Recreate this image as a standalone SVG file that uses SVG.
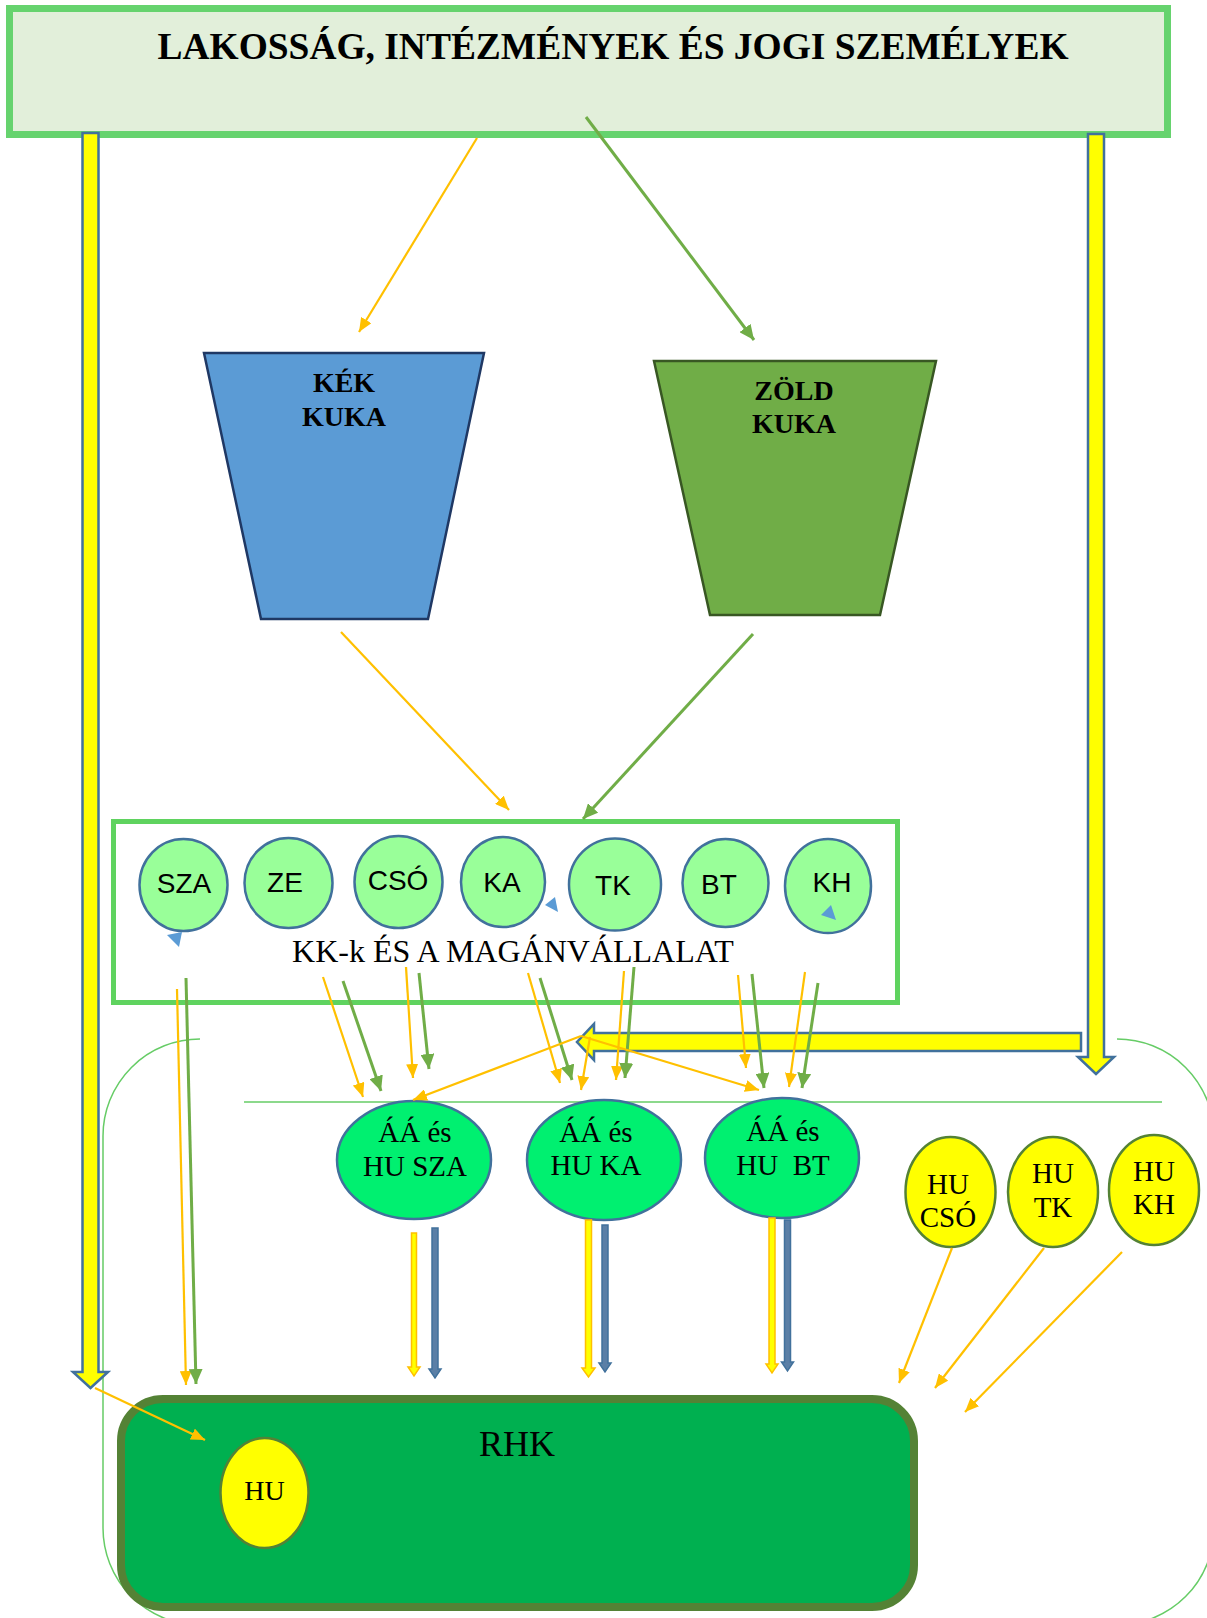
<svg xmlns="http://www.w3.org/2000/svg" width="1207" height="1618" viewBox="0 0 1207 1618">
<style>
.serif{font-family:"Liberation Serif","Times New Roman",serif;fill:#000}
.sans{font-family:"Liberation Sans",Arial,sans-serif;fill:#000}
.b{font-weight:bold}
.ol{stroke:#FFC000;stroke-width:2.2;fill:none;marker-end:url(#ao)}
.gl{stroke:#70AD47;stroke-width:3;fill:none;marker-end:url(#ag)}
.blk{fill:#FFFF00;stroke:#41719C;stroke-width:2.5;stroke-linejoin:miter}
.kc{fill:#99FF99;stroke:#41719C;stroke-width:2.5}
.aa{fill:#00F070;stroke:#41719C;stroke-width:2.5}
.hu{fill:#FFFF00;stroke:#548235;stroke-width:2.5}
.thin{fill:none;stroke:#66CC66;stroke-width:1.5}
.ya{fill:#FFFF00;stroke:#FFC000;stroke-width:1.5}
.ba{fill:#5B7FA6;stroke:#41719C;stroke-width:1.5}
.tri{fill:#5B9BD5}
</style>
<defs>
<marker id="ao" markerUnits="userSpaceOnUse" viewBox="0 0 14 12" markerWidth="14" markerHeight="12" refX="14" refY="6" orient="auto"><path d="M0,0 L14,6 L0,12 z" fill="#FFC000"/></marker>
<marker id="ag" markerUnits="userSpaceOnUse" viewBox="0 0 15 14" markerWidth="15" markerHeight="14" refX="15" refY="7" orient="auto"><path d="M0,0 L15,7 L0,14 z" fill="#70AD47"/></marker>
</defs>
<rect width="1207" height="1618" fill="#FFFFFF"/>

<g id="header">
<rect x="9.5" y="8.5" width="1158" height="126" fill="#E2EFDA" stroke="#66D36E" stroke-width="7"/>
<text class="serif b" x="613" y="59" font-size="38" text-anchor="middle" textLength="911" lengthAdjust="spacingAndGlyphs">LAKOSSÁG, INTÉZMÉNYEK ÉS JOGI SZEMÉLYEK</text>
</g>

<g id="outline">
<path class="thin" d="M200,1039 A97,97 0 0 0 103,1136 L103,1528 A97,97 0 0 0 200,1625 L1117,1625 A97,97 0 0 0 1214,1528 L1214,1136 A97,97 0 0 0 1117,1039"/>
<line x1="244" y1="1102" x2="1162" y2="1102" stroke="#66CC66" stroke-width="1.5"/>
</g>

<g id="kek-kuka">
<polygon points="204,353 484,353 428,619 261,619" fill="#5B9BD5" stroke="#1F3864" stroke-width="2.5"/>
<text class="serif b" x="344" y="392" font-size="28" text-anchor="middle">KÉK</text>
<text class="serif b" x="344" y="426" font-size="28" text-anchor="middle">KUKA</text>
</g>

<g id="zold-kuka">
<polygon points="654,361 936,361 880,615 710,615" fill="#70AD47" stroke="#385723" stroke-width="2.5"/>
<text class="serif b" x="794" y="400" font-size="28" text-anchor="middle">ZÖLD</text>
<text class="serif b" x="794" y="433" font-size="28" text-anchor="middle">KUKA</text>
</g>

<g id="kk-box">
<rect x="113.5" y="821.5" width="784" height="181" fill="#FFFFFF" stroke="#5FD35F" stroke-width="5"/>
<text class="serif" x="513" y="962" font-size="32" text-anchor="middle">KK-k ÉS A MAGÁNVÁLLALAT</text>
</g>
<g id="c-sza"><ellipse class="kc" cx="183.5" cy="885" rx="44" ry="46"/><text class="sans" x="184" y="893" font-size="28" text-anchor="middle">SZA</text></g>
<g id="c-ze"><ellipse class="kc" cx="288.5" cy="883" rx="44" ry="45"/><text class="sans" x="285" y="892" font-size="28" text-anchor="middle">ZE</text></g>
<g id="c-cso"><ellipse class="kc" cx="398.5" cy="882" rx="44" ry="46"/><text class="sans" x="398" y="890" font-size="28" text-anchor="middle">CSÓ</text></g>
<g id="c-ka"><ellipse class="kc" cx="503" cy="882" rx="42" ry="45"/><text class="sans" x="502" y="892" font-size="28" text-anchor="middle">KA</text></g>
<g id="c-tk"><ellipse class="kc" cx="615" cy="884.5" rx="46" ry="46"/><text class="sans" x="613" y="895" font-size="28" text-anchor="middle">TK</text></g>
<g id="c-bt"><ellipse class="kc" cx="725.5" cy="883" rx="43" ry="44"/><text class="sans" x="719" y="894" font-size="28" text-anchor="middle">BT</text></g>
<g id="c-kh"><ellipse class="kc" cx="828" cy="886" rx="43" ry="47"/><text class="sans" x="832" y="892" font-size="28" text-anchor="middle">KH</text></g>
<g id="markers-small">
<polygon class="tri" points="167,935 182,932 179,947"/>
<polygon class="tri" points="545,905 555,897 558,912"/>
<polygon class="tri" points="821,915 831,905 836,920"/>
</g>

<g id="rhk">
<rect x="121" y="1399" width="793" height="208" rx="42" ry="42" fill="#00B050" stroke="#548235" stroke-width="8"/>
<text class="serif" x="517" y="1456" font-size="36" text-anchor="middle">RHK</text>
</g>
<g id="hu-rhk"><ellipse class="hu" cx="264.5" cy="1493" rx="44" ry="55"/><text class="serif" x="264.5" y="1500" font-size="28" text-anchor="middle">HU</text></g>

<g id="aa-sza"><ellipse class="aa" cx="414" cy="1160" rx="77" ry="59"/><text class="serif" x="415" y="1142" font-size="29" text-anchor="middle">ÁÁ és</text><text class="serif" x="415" y="1176" font-size="29" text-anchor="middle">HU SZA</text></g>
<g id="aa-ka"><ellipse class="aa" cx="604" cy="1160" rx="77" ry="60"/><text class="serif" x="596" y="1142" font-size="29" text-anchor="middle">ÁÁ és</text><text class="serif" x="596" y="1175" font-size="29" text-anchor="middle">HU KA</text></g>
<g id="aa-bt"><ellipse class="aa" cx="782" cy="1158" rx="77" ry="60"/><text class="serif" x="783" y="1141" font-size="29" text-anchor="middle">ÁÁ és</text><text class="serif" x="783" y="1175" font-size="29" text-anchor="middle" xml:space="preserve">HU  BT</text></g>

<g id="hu-cso"><ellipse class="hu" cx="950.5" cy="1192" rx="45" ry="55"/><text class="serif" x="948" y="1194" font-size="29" text-anchor="middle">HU</text><text class="serif" x="948" y="1227" font-size="29" text-anchor="middle">CSÓ</text></g>
<g id="hu-tk"><ellipse class="hu" cx="1053" cy="1192" rx="45" ry="55"/><text class="serif" x="1053" y="1183" font-size="29" text-anchor="middle">HU</text><text class="serif" x="1053" y="1217" font-size="29" text-anchor="middle">TK</text></g>
<g id="hu-kh"><ellipse class="hu" cx="1154" cy="1190" rx="45" ry="55"/><text class="serif" x="1154" y="1181" font-size="29" text-anchor="middle">HU</text><text class="serif" x="1154" y="1214" font-size="29" text-anchor="middle">KH</text></g>

<g id="connectors">
<polygon class="blk" points="82.5,133 98.5,133 98.5,1372 108,1372 90.5,1388 73,1372 82.5,1372"/>
<polygon class="blk" points="1088,134 1104,134 1104,1057 1114,1057 1096,1074 1078,1057 1088,1057"/>
<polygon class="blk" points="1081,1033 594,1033 594,1024 577,1042 594,1060 594,1051 1081,1051"/>

<polygon class="ya" points="411.5,1233 416.5,1233 416.5,1367 420,1367 414,1376 408,1367 411.5,1367"/>
<polygon class="ba" points="432,1228 438,1228 438,1369 441,1369 435,1378 429,1369 432,1369"/>
<polygon class="ya" points="585.5,1220 591.5,1220 591.5,1368 595,1368 588.5,1377 582,1368 585.5,1368"/>
<polygon class="ba" points="602,1225 608,1225 608,1363 611,1363 605,1372 599,1363 602,1363"/>
<polygon class="ya" points="769,1218 775,1218 775,1364 778,1364 772,1373 766,1364 769,1364"/>
<polygon class="ba" points="784.5,1220 790.5,1220 790.5,1362 793.5,1362 787.5,1371 781.5,1362 784.5,1362"/>

<line class="ol" x1="477" y1="138" x2="359" y2="332"/>
<line class="gl" x1="586" y1="117" x2="754" y2="340"/>
<line class="ol" x1="341" y1="632" x2="509" y2="810"/>
<line class="gl" x1="753" y1="634" x2="583" y2="819"/>

<line class="ol" x1="177" y1="989" x2="186" y2="1385"/>
<line class="gl" x1="186" y1="978" x2="196" y2="1384"/>
<line class="ol" x1="323" y1="977" x2="363" y2="1097"/>
<line class="gl" x1="343" y1="981" x2="381" y2="1091"/>
<line class="ol" x1="406" y1="967" x2="413" y2="1078"/>
<line class="gl" x1="419" y1="973" x2="429" y2="1069"/>
<line class="ol" x1="528" y1="973" x2="560" y2="1083"/>
<line class="gl" x1="540" y1="978" x2="572" y2="1080"/>
<line class="ol" x1="624" y1="971" x2="616" y2="1080"/>
<line class="gl" x1="634" y1="967" x2="625" y2="1078"/>
<line class="ol" x1="590" y1="1037" x2="581" y2="1090"/>
<line class="ol" x1="738" y1="975" x2="746" y2="1068"/>
<line class="gl" x1="752" y1="974" x2="764" y2="1088"/>
<line class="ol" x1="805" y1="972" x2="789" y2="1087"/>
<line class="gl" x1="818" y1="983" x2="802" y2="1088"/>
<line class="ol" x1="581" y1="1036" x2="413" y2="1100"/>
<line class="ol" x1="581" y1="1036" x2="759" y2="1090"/>

<line class="ol" x1="952" y1="1248" x2="899" y2="1383"/>
<line class="ol" x1="1044" y1="1248" x2="935" y2="1388"/>
<line class="ol" x1="1122" y1="1252" x2="965" y2="1412"/>
<line class="ol" x1="95" y1="1388" x2="205" y2="1440"/>
</g>
</svg>
